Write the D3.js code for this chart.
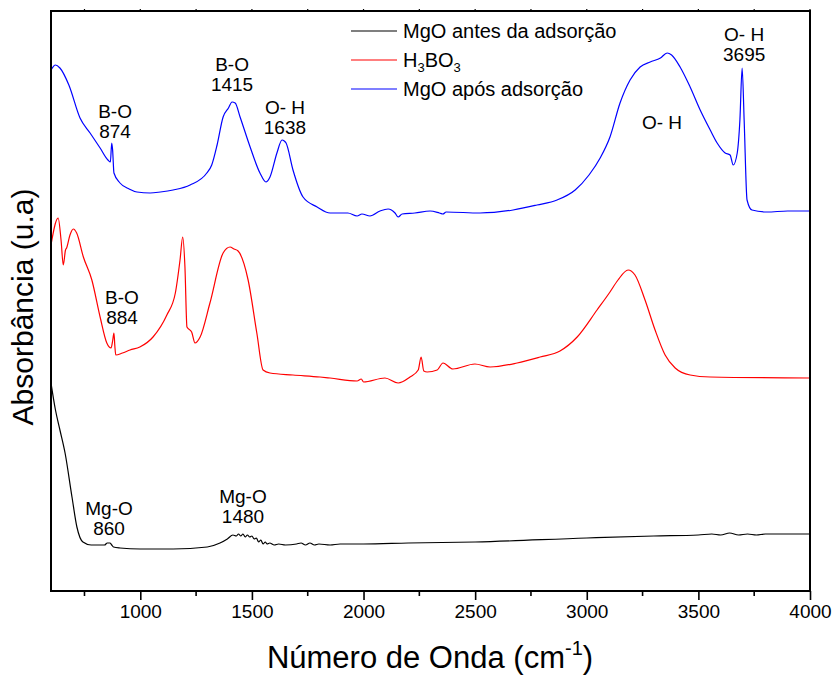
<!DOCTYPE html>
<html>
<head>
<meta charset="utf-8">
<script src="https://cdn.jsdelivr.net/npm/d3@7"></script>
<style>
  html, body { margin: 0; padding: 0; background: #fff; }
  svg { display: block; font-family: "Liberation Sans", Arial, sans-serif; }
</style>
</head>
<body>
<svg id="chart" width="837" height="680"></svg>
<script>
// FTIR spectra: wavenumber (cm-1) and absorbance (arbitrary units, offset per trace)
const mgoAntesWn  = [600, 620, 640, 663, 694, 716, 743, 780, 810, 840, 852, 864, 872, 880, 909, 1000, 1147, 1300, 1357, 1390, 1415, 1430, 1440, 1450, 1460, 1470, 1480, 1490, 1500, 1510, 1520, 1530, 1540, 1550, 1560, 1568, 1580, 1600, 1620, 1650, 1700, 1720, 1740, 1760, 1780, 1800, 1850, 1895, 2000, 2200, 2500, 3000, 3300, 3500, 3560, 3600, 3640, 3680, 3720, 3760, 3800, 4000];
const mgoAntesAbs = [20.8, 18.1, 16.1, 13.8, 9.4, 6.4, 4.9, 4.6, 4.6, 4.6, 4.8, 4.8, 4.6, 4.4, 4.3, 4.2, 4.2, 4.4, 4.8, 5.2, 5.6, 5.5, 5.7, 5.5, 5.7, 5.4, 5.6, 5.4, 5.5, 5.2, 5.3, 4.9, 5.1, 4.7, 4.9, 4.7, 4.8, 4.6, 4.7, 4.6, 4.7, 4.8, 4.6, 4.8, 4.6, 4.7, 4.6, 4.7, 4.7, 4.8, 4.9, 5.3, 5.5, 5.6, 5.7, 5.6, 5.8, 5.6, 5.7, 5.6, 5.7, 5.7];

const h3bo3Wn  = [600, 632, 645, 655, 665, 670, 685, 700, 715, 745, 783, 820, 850, 869, 876, 882, 886, 890, 920, 954, 998, 1057, 1119, 1157, 1178, 1190, 1200, 1209, 1230, 1245, 1268, 1312, 1371, 1402, 1420, 1438, 1483, 1522, 1550, 1581, 1684, 1805, 1850, 1971, 1990, 2000, 2096, 2155, 2208, 2245, 2258, 2270, 2285, 2330, 2356, 2400, 2499, 2567, 2688, 2791, 2880, 2957, 3046, 3104, 3140, 3185, 3216, 3261, 3306, 3351, 3396, 3463, 3553, 4000];
const h3bo3Abs = [34.6, 37.3, 35.1, 32.6, 34.1, 34.3, 35.6, 36.2, 35.8, 33.4, 31.1, 27.4, 24.8, 24.3, 25.0, 25.8, 24.5, 23.6, 23.8, 24.1, 24.4, 25.4, 27.6, 29.8, 33.1, 35.4, 32.4, 26.4, 25.9, 24.8, 25.4, 28.8, 33.8, 34.4, 34.2, 34.0, 31.1, 25.8, 22.1, 21.8, 21.6, 21.4, 21.3, 21.0, 21.2, 20.9, 21.3, 20.8, 21.4, 22.1, 23.4, 22.0, 21.9, 22.1, 22.8, 22.2, 22.7, 22.4, 22.8, 23.4, 24.0, 25.4, 28.1, 29.9, 31.1, 32.1, 31.6, 29.1, 26.1, 23.6, 22.3, 21.6, 21.4, 21.3];

const mgoAposWn  = [600, 620, 640, 680, 730, 775, 820, 855, 866, 872, 876, 882, 909, 950, 985, 1044, 1090, 1147, 1223, 1298, 1320, 1344, 1371, 1395, 1411, 1425, 1447, 1492, 1536, 1563, 1581, 1612, 1635, 1645, 1653, 1684, 1729, 1792, 1850, 1930, 1971, 1993, 2029, 2074, 2110, 2141, 2155, 2173, 2230, 2298, 2340, 2356, 2370, 2522, 2670, 2777, 2867, 2948, 3010, 3060, 3104, 3149, 3194, 3239, 3284, 3330, 3360, 3380, 3418, 3463, 3508, 3553, 3584, 3620, 3642, 3656, 3674, 3686, 3696, 3705, 3718, 3740, 3807, 3900, 4000];
const mgoAposAbs = [52.1, 52.6, 52.3, 50.6, 47.3, 45.8, 44.3, 43.1, 42.9, 44.8, 44.1, 41.8, 40.8, 40.2, 39.9, 39.8, 39.9, 40.1, 40.6, 41.8, 42.6, 44.6, 47.4, 48.3, 48.9, 48.8, 47.4, 44.4, 41.8, 40.9, 41.4, 43.8, 45.1, 45.0, 44.8, 42.1, 39.4, 38.4, 37.8, 37.8, 37.5, 37.7, 37.5, 38.0, 38.2, 37.8, 37.4, 37.7, 37.8, 38.0, 37.8, 37.7, 37.9, 37.8, 38.1, 38.6, 39.1, 40.1, 41.6, 43.3, 45.4, 48.8, 51.1, 52.4, 52.9, 53.3, 53.8, 53.6, 52.4, 50.4, 48.1, 46.1, 44.8, 43.8, 43.6, 42.6, 43.8, 47.1, 52.3, 47.1, 39.1, 38.1, 37.9, 38.0, 38.0];

const seriesNames  = ["MgO antes da adsorção", "H3BO3", "MgO após adsorção"];
const seriesColors = ["#000000", "#ff0000", "#0000ff"];

const xTicks = [1000, 1500, 2000, 2500, 3000, 3500, 4000];
const xMinorTicks = [750, 1250, 1750, 2250, 2750, 3250, 3750];

// Band assignments: label, wavenumber value, and the (wavenumber, absorbance) where the value line sits
const bandLabels = ["Mg-O", "Mg-O", "B-O", "B-O", "B-O", "O- H", "O- H", "O- H"];
const bandValues = ["860", "1480", "884", "874", "1415", "1638", "", "3695"];
const bandWn     = [860, 1460, 918, 887, 1411, 1648, 3337, 3705];
const bandAbs    = [5.6, 6.8, 26.7, 45.3, 50.0, 45.7, 46.2, 53.0];

const svg = d3.select("#chart");
const W = 837, H = 680;
const m = { left: 51, right: 27, top: 11, bottom: 89 };
const iw = W - m.left - m.right, ih = H - m.top - m.bottom;

const x = d3.scaleLinear().domain([600, 4000]).range([m.left, m.left + iw]);
const y = d3.scaleLinear().domain([0, 58]).range([m.top + ih, m.top]);

const series = [
  { wn: mgoAntesWn, abs: mgoAntesAbs },
  { wn: h3bo3Wn, abs: h3bo3Abs },
  { wn: mgoAposWn, abs: mgoAposAbs }
];

const line = d3.line()
  .x(d => x(d[0]))
  .y(d => y(d[1]))
  .curve(d3.curveMonotoneX);

svg.append("clipPath").attr("id", "plotclip")
  .append("rect").attr("x", m.left).attr("y", m.top).attr("width", iw).attr("height", ih);

const g = svg.append("g").attr("clip-path", "url(#plotclip)");
series.forEach((s, i) => {
  g.append("path")
    .datum(s.wn.map((w, k) => [w, s.abs[k]]))
    .attr("fill", "none")
    .attr("stroke", seriesColors[i])
    .attr("stroke-width", 1.2)
    .attr("stroke-linejoin", "round")
    .attr("d", line);
});

// bottom axis: major ticks with labels, minor ticks without
const xAxis = d3.axisBottom(x).tickValues(xTicks).tickFormat(d3.format("d")).tickSize(9).tickPadding(5);
const ax = svg.append("g").attr("transform", `translate(0,${m.top + ih})`).call(xAxis);
ax.select(".domain").remove();
ax.selectAll(".tick line").attr("stroke", "#000").attr("stroke-width", 1.6);
ax.selectAll(".tick text").attr("font-size", 19).attr("fill", "#000")
  .attr("font-family", "'Liberation Sans', Arial, sans-serif");

svg.append("g").attr("transform", `translate(0,${m.top + ih})`)
  .selectAll("line").data(xMinorTicks).join("line")
  .attr("x1", d => x(d)).attr("x2", d => x(d))
  .attr("y1", 0).attr("y2", 5)
  .attr("stroke", "#000").attr("stroke-width", 1.6);

// short ticks on the top edge
svg.append("g")
  .selectAll("line").data(xTicks.concat(xMinorTicks)).join("line")
  .attr("x1", d => x(d)).attr("x2", d => x(d))
  .attr("y1", m.top).attr("y2", m.top - 2)
  .attr("stroke", "#000").attr("stroke-width", 1.2);

// frame
svg.append("rect")
  .attr("x", m.left).attr("y", m.top).attr("width", iw).attr("height", ih)
  .attr("fill", "none").attr("stroke", "#000").attr("stroke-width", 2);

// axis titles
const xt = svg.append("text")
  .attr("x", 430).attr("y", 668)
  .attr("text-anchor", "middle").attr("font-size", 31).attr("fill", "#000");
xt.append("tspan").text("Número de Onda (cm");
xt.append("tspan").attr("font-size", 20).attr("dy", -13).text("-1");
xt.append("tspan").attr("dy", 13).text(")");

svg.append("text")
  .attr("transform", `translate(33,${m.top + ih / 2 + 6}) rotate(-90)`)
  .attr("text-anchor", "middle").attr("font-size", 30).attr("fill", "#000")
  .text("Absorbância (u.a)");

// legend
const legY = [31, 60, 89];
const leg = svg.append("g");
seriesNames.forEach((name, i) => {
  leg.append("line")
    .attr("x1", 351).attr("x2", 397).attr("y1", legY[i]).attr("y2", legY[i])
    .attr("stroke", seriesColors[i]).attr("stroke-width", 1.2);
  const t = leg.append("text").attr("x", 403).attr("y", legY[i] + 7)
    .attr("font-size", 20).attr("fill", "#000");
  if (name === "H3BO3") {
    t.append("tspan").text("H");
    t.append("tspan").attr("font-size", 13).attr("dy", 5).text("3");
    t.append("tspan").attr("dy", -5).text("BO");
    t.append("tspan").attr("font-size", 13).attr("dy", 5).text("3");
  } else {
    t.text(name);
  }
});

// band annotations: name above, wavenumber below
const ann = svg.append("g").attr("font-size", 19).attr("fill", "#000").attr("text-anchor", "middle");
bandLabels.forEach((lab, i) => {
  const px = x(bandWn[i]), py = y(bandAbs[i]);
  if (bandValues[i]) {
    ann.append("text").attr("x", px).attr("y", py - 20).text(lab);
    ann.append("text").attr("x", px).attr("y", py).text(bandValues[i]);
  } else {
    ann.append("text").attr("x", px).attr("y", py).text(lab);
  }
});
</script>
</body>
</html>
